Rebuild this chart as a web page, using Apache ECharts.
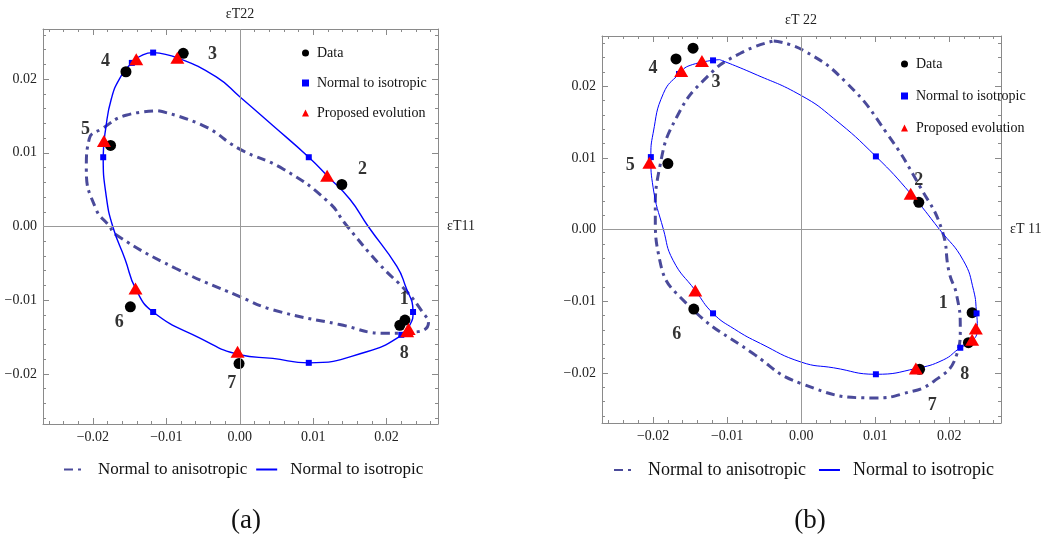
<!DOCTYPE html>
<html>
<head>
<meta charset="utf-8">
<script src="https://cdn.jsdelivr.net/npm/echarts@6/dist/echarts.min.js"></script>
<style>
  html, body { margin: 0; padding: 0; background: #fff; }
  #chart { width: 1047px; height: 539px; }
</style>
</head>
<body>
<div id="chart"></div>
<script>
// point numbers
const ptNames = ["1", "2", "3", "4", "5", "6", "7", "8"];

// axis ticks
const majorTicks = [-0.02, -0.01, 0, 0.01, 0.02];
const minorTicks = [-0.026, -0.024, -0.022, -0.018, -0.016, -0.014, -0.012, -0.008, -0.006, -0.004, -0.002,
  0.002, 0.004, 0.006, 0.008, 0.012, 0.014, 0.016, 0.018, 0.022, 0.024, 0.026];

// ---- panel (a) ----
const dataAX = [0.0225, 0.0139, -0.0077, -0.0155, -0.0176, -0.0149, -0.0001, 0.0218];
const dataAY = [-0.0127, 0.0057, 0.0235, 0.0210, 0.0110, -0.0109, -0.0186, -0.0134];
const triAX = [0.0230, 0.0119, -0.0085, -0.0141, -0.0185, -0.0142, -0.0003, 0.0228];
const triAY = [-0.0139, 0.0069, 0.0229, 0.0227, 0.0116, -0.0084, -0.0170, -0.0142];
const sqAX = [0.0236, 0.0094, -0.0118, -0.0147, -0.0186, -0.0118, 0.0094, 0.0220];
const sqAY = [-0.0116, 0.0094, 0.0236, 0.0222, 0.0094, -0.0116, -0.0185, -0.0147];
const isoAX = [-0.0118, -0.0085, -0.0032, 0.0000, 0.0045, 0.0094, 0.0119, 0.0150, 0.0175, 0.0214, 0.0225, 0.0236,
  0.0232, 0.0218, 0.0173, 0.0094, 0.0045, 0.0000, -0.0055, -0.0118, -0.0142, -0.0156, -0.0173, -0.0182, -0.0186,
  -0.0182, -0.0175, -0.0164, -0.0147, -0.0132, -0.0118];
const isoAY = [0.0236, 0.0229, 0.0203, 0.0176, 0.0137, 0.0094, 0.0069, 0.0037, 0.0000, -0.0054, -0.0079, -0.0116,
  -0.0133, -0.0149, -0.0170, -0.0185, -0.0179, -0.0174, -0.0151, -0.0116, -0.0084, -0.0045, 0.0000, 0.0042, 0.0094,
  0.0137, 0.0173, 0.0200, 0.0222, 0.0233, 0.0236];
const aniAX = [-0.0111, -0.0050, 0.0000, 0.0059, 0.0120, 0.0145, 0.0191, 0.0227, 0.0248, 0.0257, 0.0241, 0.0200,
  0.0136, 0.0045, 0.0000, -0.0087, -0.0169, -0.0178, -0.0196, -0.0209, -0.0205, -0.0187, -0.0155, -0.0111];
const aniAY = [0.0157, 0.0137, 0.0105, 0.0078, 0.0034, 0.0002, -0.0052, -0.0088, -0.0115, -0.0131, -0.0143, -0.0145,
  -0.0133, -0.0113, -0.0095, -0.0057, -0.0011, 0.0001, 0.0024, 0.0078, 0.0119, 0.0133, 0.0151, 0.0157];
const labAX = [0.0224, 0.0167, -0.0037, -0.0183, -0.0210, -0.0164, -0.0011, 0.0224];
const labAY = [-0.0099, 0.0077, 0.0233, 0.0224, 0.0132, -0.0130, -0.0213, -0.0172];

// ---- panel (b) ----
const dataBX = [0.0231, 0.0159, -0.0146, -0.0169, -0.0180, -0.0145, 0.0160, 0.0226];
const dataBY = [-0.0116, 0.0038, 0.0253, 0.0238, 0.0092, -0.0111, -0.0195, -0.0158];
const triBX = [0.0236, 0.0148, -0.0134, -0.0162, -0.0205, -0.0143, 0.0155, 0.0231];
const triBY = [-0.0138, 0.0050, 0.0235, 0.0221, 0.0093, -0.0085, -0.0194, -0.0154];
const sqBX = [0.0237, 0.0101, -0.0119, -0.0165, -0.0203, -0.0119, 0.0101, 0.0215];
const sqBY = [-0.0117, 0.0102, 0.0236, 0.0217, 0.0101, -0.0117, -0.0202, -0.0165];
const isoBX = [-0.0110, -0.0065, 0.0000, 0.0044, 0.0101, 0.0148, 0.0187, 0.0219, 0.0233, 0.0237, 0.0238, 0.0232,
  0.0215, 0.0192, 0.0155, 0.0101, 0.0044, 0.0000, -0.0055, -0.0090, -0.0119, -0.0143, -0.0173, -0.0186, -0.0200,
  -0.0203, -0.0200, -0.0186, -0.0165, -0.0150, -0.0110];
const isoBY = [0.0237, 0.0218, 0.0187, 0.0155, 0.0102, 0.0050, 0.0000, -0.0043, -0.0085, -0.0117, -0.0137, -0.0155,
  -0.0165, -0.0182, -0.0194, -0.0202, -0.0193, -0.0185, -0.0159, -0.0139, -0.0117, -0.0085, -0.0043, 0.0000, 0.0059,
  0.0101, 0.0134, 0.0190, 0.0217, 0.0229, 0.0237];
const aniBX = [-0.0037, 0.0003, 0.0062, 0.0116, 0.0161, 0.0190, 0.0200, 0.0210, 0.0215, 0.0210, 0.0179, 0.0138,
  0.0100, 0.0000, -0.0065, -0.0155, -0.0191, -0.0197, -0.0191, -0.0168, -0.0127, -0.0082, -0.0037];
const aniBY = [0.0263, 0.0250, 0.0204, 0.0134, 0.0059, 0.0000, -0.0060, -0.0091, -0.0138, -0.0175, -0.0212, -0.0229,
  -0.0235, -0.0215, -0.0173, -0.0103, -0.0043, 0.0022, 0.0087, 0.0157, 0.0213, 0.0246, 0.0263];
const labBX = [0.0192, 0.0159, -0.0115, -0.0200, -0.0231, -0.0168, 0.0177, 0.0221];
const labBY = [-0.0103, 0.0069, 0.0206, 0.0225, 0.0090, -0.0146, -0.0245, -0.0202];

const zip = (xs, ys) => xs.map((x, i) => [x, ys[i]]);
const fmt = (v) => (v < 0 ? "\u2212" : "") + Math.abs(v).toFixed(2);

const serif = "Liberation Serif";
const frameColor = "#8a8a8a";
const aniColor = "#4a4a9a";

function axesFor(gridIndex, dim, min, max) {
  const main = dim === "x" ? "bottom" : "left";
  const opp = dim === "x" ? "top" : "right";
  const base = { type: "value", gridIndex, min, max, splitLine: { show: false } };
  return [
    {
      ...base, position: main,
      axisLine: { show: true, onZero: false, lineStyle: { color: frameColor } },
      axisTick: { show: true, inside: true, length: 6, customValues: majorTicks, lineStyle: { color: frameColor } },
      axisLabel: { show: true, customValues: majorTicks, formatter: fmt, margin: 6,
        fontFamily: serif, fontSize: 14, color: "#222" },
    },
    {
      ...base, position: main,
      axisLine: { show: false, onZero: false },
      axisTick: { show: true, inside: true, length: 3, customValues: minorTicks, lineStyle: { color: frameColor } },
      axisLabel: { show: false },
    },
    {
      ...base, position: opp,
      axisLine: { show: true, onZero: false, lineStyle: { color: frameColor } },
      axisTick: { show: true, inside: true, length: 6, customValues: majorTicks, lineStyle: { color: frameColor } },
      axisLabel: { show: false },
    },
    {
      ...base, position: opp,
      axisLine: { show: false, onZero: false },
      axisTick: { show: true, inside: true, length: 3, customValues: minorTicks, lineStyle: { color: frameColor } },
      axisLabel: { show: false },
    },
  ];
}

function panelSeries(axisIndex, p, lineWidth) {
  const ax = { xAxisIndex: axisIndex, yAxisIndex: axisIndex };
  return [
    {
      type: "scatter", ...ax, data: [], z: 1, silent: true,
      markLine: {
        silent: true, symbol: "none", animation: false,
        label: { show: false },
        lineStyle: { color: "#999", type: "solid", width: 1 },
        data: [{ xAxis: 0 }, { yAxis: 0 }],
      },
    },
    {
      name: "Normal to anisotropic", type: "line", ...ax, z: 2,
      data: zip(p.aniX, p.aniY), smooth: true, symbol: "none",
      lineStyle: { color: aniColor, width: 3, type: [9, 5, 3, 5] },
      itemStyle: { color: aniColor },
    },
    {
      name: "Normal to isotropic", type: "line", ...ax, z: 3,
      data: zip(p.isoX, p.isoY), smooth: true, symbol: "none",
      lineStyle: { color: "#0000ff", width: lineWidth },
      itemStyle: { color: "#0000ff" },
    },
    {
      name: "Data", type: "scatter", ...ax, z: 4,
      data: zip(p.dataX, p.dataY), symbol: "circle", symbolSize: 11,
      itemStyle: { color: "#000", opacity: 1 },
    },
    {
      name: "Normal to isotropic ", type: "scatter", ...ax, z: 5,
      data: zip(p.sqX, p.sqY), symbol: "rect", symbolSize: 6,
      itemStyle: { color: "#0000ff", opacity: 1 },
    },
    {
      name: "Proposed evolution", type: "scatter", ...ax, z: 6,
      data: zip(p.triX, p.triY), symbol: "triangle", symbolSize: [14, 12],
      itemStyle: { color: "#ff0000", opacity: 1 },
    },
    {
      type: "scatter", ...ax, z: 7, silent: true, symbolSize: 0,
      data: p.labX.map((x, i) => ({ value: [x, p.labY[i]], name: ptNames[i] })),
      label: { show: true, position: "inside", formatter: "{b}",
        fontFamily: serif, fontWeight: "bold", fontSize: 18, color: "#000" },
    },
  ];
}

const chart = echarts.init(document.getElementById("chart"));

const topLegend = (left, top, gap) => ({
  orient: "vertical", left, top, padding: 0, itemGap: gap, itemWidth: 7, itemHeight: 7,
  data: ["Data", "Normal to isotropic ", "Proposed evolution"],
  textStyle: { fontFamily: serif, fontSize: 14, color: "#111", padding: [0, 0, 0, 3] },
  selectedMode: false,
});
const hideSymbol = { color: "rgba(0,0,0,0)", borderWidth: 0, opacity: 0 };
const bottomLegend = (left, gap, size, pad) => ({
  orient: "horizontal", left, top: 461, padding: 0, itemGap: gap, itemWidth: 21, itemHeight: 10,
  data: [
    { name: "Normal to anisotropic", itemStyle: hideSymbol },
    { name: "Normal to isotropic", itemStyle: hideSymbol },
  ],
  textStyle: { fontFamily: serif, fontSize: size, color: "#111", padding: [0, 0, 0, pad] },
  selectedMode: false,
});

chart.setOption({
  animation: false,
  grid: [
    { left: 43, top: 29, width: 395, height: 395 },
    { left: 602, top: 36, width: 399, height: 387 },
  ],
  xAxis: [...axesFor(0, "x", -0.0268, 0.027), ...axesFor(1, "x", -0.0269, 0.027)],
  yAxis: [...axesFor(0, "y", -0.0268, 0.0268), ...axesFor(1, "y", -0.027, 0.027)],
  legend: [
    topLegend(302, 46, 16),
    topLegend(901, 57, 18),
    bottomLegend(63, 8, 17, 8),
    bottomLegend(613, 12, 18, 8),
  ],
  graphic: [
    { type: "text", x: 240, y: 14, style: { text: "\u03b5T22", font: "14px 'Liberation Serif'", fill: "#222", align: "center", verticalAlign: "middle" } },
    { type: "text", x: 447, y: 226, style: { text: "\u03b5T11", font: "14px 'Liberation Serif'", fill: "#222", align: "left", verticalAlign: "middle" } },
    { type: "text", x: 801, y: 20, style: { text: "\u03b5T 22", font: "14px 'Liberation Serif'", fill: "#222", align: "center", verticalAlign: "middle" } },
    { type: "text", x: 1010, y: 229, style: { text: "\u03b5T 11", font: "14px 'Liberation Serif'", fill: "#222", align: "left", verticalAlign: "middle" } },
    { type: "text", x: 246, y: 521, style: { text: "(a)", font: "27px 'Liberation Serif'", fill: "#111", align: "center", verticalAlign: "middle" } },
    { type: "text", x: 810, y: 521, style: { text: "(b)", font: "27px 'Liberation Serif'", fill: "#111", align: "center", verticalAlign: "middle" } },
  ],
  series: [
    ...panelSeries(0, {
      dataX: dataAX, dataY: dataAY, triX: triAX, triY: triAY, sqX: sqAX, sqY: sqAY,
      isoX: isoAX, isoY: isoAY, aniX: aniAX, aniY: aniAY, labX: labAX, labY: labAY,
    }, 1.4),
    ...panelSeries(4, {
      dataX: dataBX, dataY: dataBY, triX: triBX, triY: triBY, sqX: sqBX, sqY: sqBY,
      isoX: isoBX, isoY: isoBY, aniX: aniBX, aniY: aniBY, labX: labBX, labY: labBY,
    }, 1),
  ],
});
</script>
</body>
</html>
